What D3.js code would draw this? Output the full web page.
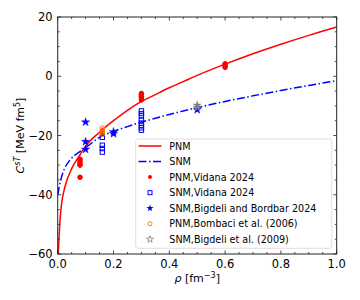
<!DOCTYPE html>
<html>
<head>
<meta charset="utf-8">
<script src="https://cdn.jsdelivr.net/npm/d3@7/dist/d3.min.js"></script>
<style>
  html, body { margin: 0; padding: 0; background: #fff; }
  svg { display: block; font-family: "DejaVu Sans", sans-serif; }
</style>
</head>
<body>
<svg id="chart" width="360" height="300"></svg>
<script>
// --- Curves ---
const pnmRho = [0.001, 0.005, 0.008, 0.014, 0.026, 0.05, 0.08, 0.1, 0.15, 0.2, 0.25, 0.3, 0.35, 0.4, 0.45, 0.5, 0.6, 0.7, 0.8, 0.9, 1.0];
const pnmC   = [-62, -54, -49, -43, -37.3, -31.2, -26.5, -23.6, -18.9, -15.0, -11.5, -8.5, -6.2, -3.9, -1.8, 0.3, 4.1, 7.6, 10.8, 13.8, 16.6];

const snmRho = [0.001, 0.005, 0.011, 0.02, 0.044, 0.074, 0.1, 0.15, 0.2, 0.25, 0.3, 0.35, 0.4, 0.45, 0.5, 0.6, 0.7, 0.8, 0.9, 1.0];
const snmC   = [-40, -37.5, -35, -32.2, -28.3, -25.8, -24.1, -20.6, -18.6, -17.0, -15.5, -14.2, -12.9, -11.7, -10.6, -8.5, -6.6, -4.8, -3.1, -1.5];

// --- Scatter sets ---
const pnmVidanaRho = [0.08, 0.08, 0.08, 0.08, 0.08, 0.16, 0.16, 0.3, 0.3, 0.3, 0.3, 0.3, 0.6, 0.6, 0.6];
const pnmVidanaC   = [-28.0, -28.8, -29.5, -30.0, -34.1, -18.5, -19.2, -5.8, -6.3, -6.8, -7.3, -8.0, 4.2, 3.6, 3.0];

const snmVidanaRho = [0.16, 0.16, 0.16, 0.16, 0.3, 0.3, 0.3, 0.3, 0.3, 0.3, 0.3, 0.3];
const snmVidanaC   = [-20.6, -23.3, -24.4, -25.6, -11.7, -12.6, -13.4, -14.8, -15.8, -16.6, -17.4, -18.2];

const snmBigBorRho = [0.1, 0.1, 0.1, 0.2, 0.2, 0.5];
const snmBigBorC   = [-15.5, -22.1, -24.7, -18.8, -19.4, -11.3];

const pnmBombaciRho = [0.16, 0.16, 0.16, 0.16];
const pnmBombaciC   = [-17.5, -18.2, -18.9, -19.6];

const snmBigdeliRho = [0.5, 0.5];
const snmBigdeliC   = [-9.8, -10.5];

const xTicks = [0, 0.2, 0.4, 0.6, 0.8, 1.0];
const yTicks = [-60, -40, -20, 0, 20];

const legendLabels = ['PNM', 'SNM', 'PNM,Vidana 2024', 'SNM,Vidana 2024',
  'SNM,Bigdeli and Bordbar 2024', 'PNM,Bombaci et al. (2006)', 'SNM,Bigdeli et al. (2009)'];

// --- Layout ---
const svg = d3.select('#chart');
const L = 57.7, R = 336.7, T = 17, B = 254;
const x = d3.scaleLinear().domain([0, 1]).range([L, R]);
const y = d3.scaleLinear().domain([-60, 20]).range([B, T]);

svg.append('clipPath').attr('id', 'clip')
  .append('rect').attr('x', L).attr('y', T).attr('width', R - L).attr('height', B - T);

const plot = svg.append('g').attr('clip-path', 'url(#clip)');

const line = d3.line().x(d => x(d[0])).y(d => y(d[1])).curve(d3.curveMonotoneX);

plot.append('path')
  .datum(d3.zip(pnmRho, pnmC))
  .attr('d', line)
  .attr('fill', 'none').attr('stroke', 'red').attr('stroke-width', 1.5);

plot.append('path')
  .datum(d3.zip(snmRho, snmC))
  .attr('d', line)
  .attr('fill', 'none').attr('stroke', 'blue').attr('stroke-width', 1.5)
  .attr('stroke-dasharray', '8,2.5,1.5,2.5');

// marker helpers
const star = d3.symbol().type(d3.symbolStar);
function drawCircles(rx, cy, fill, stroke, r) {
  plot.selectAll(null).data(d3.zip(rx, cy)).join('circle')
    .attr('cx', d => x(d[0])).attr('cy', d => y(d[1])).attr('r', r)
    .attr('fill', fill).attr('stroke', stroke).attr('stroke-width', 1);
}
function drawSquares(rx, cy) {
  plot.selectAll(null).data(d3.zip(rx, cy)).join('rect')
    .attr('x', d => x(d[0]) - 2.2).attr('y', d => y(d[1]) - 2.2)
    .attr('width', 4.4).attr('height', 4.4)
    .attr('fill', 'none').attr('stroke', 'blue').attr('stroke-width', 1);
}
function drawStars(rx, cy, color, size) {
  plot.selectAll(null).data(d3.zip(rx, cy)).join('path')
    .attr('d', star.size(size)())
    .attr('transform', d => `translate(${x(d[0])},${y(d[1])})`)
    .attr('fill', color).attr('stroke', color).attr('stroke-width', 0.4);
}

drawCircles(pnmVidanaRho, pnmVidanaC, 'red', 'red', 2.3);
drawSquares(snmVidanaRho, snmVidanaC);
drawStars(snmBigBorRho, snmBigBorC, 'blue', 22);
drawCircles(pnmBombaciRho, pnmBombaciC, 'none', '#ff7f0e', 2.3);
drawStars(snmBigdeliRho, snmBigdeliC, 'gray', 20);

// --- Axes frame and ticks (inward, all four sides) ---
const axisColor = '#222';
const ticksG = svg.append('g').attr('stroke', axisColor).attr('stroke-width', 0.8);
const xMinor = d3.range(0, 1.0001, 0.05);
const yMinor = d3.range(-60, 20.0001, 5);
xMinor.forEach(v => {
  const major = xTicks.some(t => Math.abs(t - v) < 1e-6);
  const len = major ? 3.5 : 2;
  ticksG.append('line').attr('x1', x(v)).attr('x2', x(v)).attr('y1', B).attr('y2', B - len);
  ticksG.append('line').attr('x1', x(v)).attr('x2', x(v)).attr('y1', T).attr('y2', T + len);
});
yMinor.forEach(v => {
  const major = yTicks.some(t => Math.abs(t - v) < 1e-6);
  const len = major ? 3.5 : 2;
  ticksG.append('line').attr('y1', y(v)).attr('y2', y(v)).attr('x1', L).attr('x2', L + len);
  ticksG.append('line').attr('y1', y(v)).attr('y2', y(v)).attr('x1', R).attr('x2', R - len);
});
svg.append('rect').attr('x', L).attr('y', T).attr('width', R - L).attr('height', B - T)
  .attr('fill', 'none').attr('stroke', axisColor).attr('stroke-width', 1);

// tick labels
const fmtY = v => (v < 0 ? '\u2212' + Math.abs(v) : String(v));
svg.append('g').selectAll('text').data(xTicks).join('text')
  .attr('x', d => x(d)).attr('y', B + 14)
  .attr('text-anchor', 'middle').attr('font-size', 11.5).attr('fill', '#000')
  .text(d => d.toFixed(1));
svg.append('g').selectAll('text').data(yTicks).join('text')
  .attr('x', L - 5).attr('y', d => y(d) + 4)
  .attr('text-anchor', 'end').attr('font-size', 11.5).attr('fill', '#000')
  .text(fmtY);

// axis labels
const xl = svg.append('text').attr('x', (L + R) / 2).attr('y', 282)
  .attr('text-anchor', 'middle').attr('font-size', 11).attr('fill', '#000');
xl.append('tspan').attr('font-style', 'italic').text('\u03C1');
xl.append('tspan').text(' [fm');
xl.append('tspan').attr('dy', -4).attr('font-size', 8).text('\u22123');
xl.append('tspan').attr('dy', 4).text(']');

const yl = svg.append('text')
  .attr('transform', `translate(24,${(T + B) / 2}) rotate(-90)`)
  .attr('text-anchor', 'middle').attr('font-size', 11).attr('fill', '#000');
yl.append('tspan').attr('font-style', 'italic').text('C');
yl.append('tspan').attr('dy', -4).attr('font-size', 8).attr('font-style', 'italic').text('sT');
yl.append('tspan').attr('dy', 4).text(' [MeV fm');
yl.append('tspan').attr('dy', -4).attr('font-size', 8).text('5');
yl.append('tspan').attr('dy', 4).text(']');

// --- Legend ---
const lg = svg.append('g');
lg.append('rect').attr('x', 135.7).attr('y', 139).attr('width', 196).attr('height', 109.3)
  .attr('rx', 2.5).attr('fill', 'rgba(255,255,255,0.85)').attr('stroke', '#d5d5d5').attr('stroke-width', 0.8);
const rowY = i => 146 + i * 15.55;
legendLabels.forEach((lab, i) => {
  lg.append('text').attr('x', 169.3).attr('y', rowY(i) + 3.5)
    .attr('font-size', 9.6).attr('fill', '#000').text(lab);
});
lg.append('line').attr('x1', 138.5).attr('x2', 161.5).attr('y1', rowY(0)).attr('y2', rowY(0))
  .attr('stroke', 'red').attr('stroke-width', 1.5);
lg.append('line').attr('x1', 138.5).attr('x2', 161.5).attr('y1', rowY(1)).attr('y2', rowY(1))
  .attr('stroke', 'blue').attr('stroke-width', 1.5).attr('stroke-dasharray', '8,2.5,1.5,2.5');
lg.append('circle').attr('cx', 150).attr('cy', rowY(2)).attr('r', 2).attr('fill', 'red');
lg.append('rect').attr('x', 148).attr('y', rowY(3) - 2).attr('width', 4).attr('height', 4)
  .attr('fill', 'none').attr('stroke', 'blue');
lg.append('path').attr('d', star.size(16)()).attr('transform', `translate(150,${rowY(4)})`).attr('fill', 'blue');
lg.append('circle').attr('cx', 150).attr('cy', rowY(5)).attr('r', 2).attr('fill', 'none').attr('stroke', '#ff7f0e');
lg.append('path').attr('d', star.size(15)()).attr('transform', `translate(150,${rowY(6)})`)
  .attr('fill', 'none').attr('stroke', 'gray').attr('stroke-width', 0.8);
</script>
</body>
</html>
